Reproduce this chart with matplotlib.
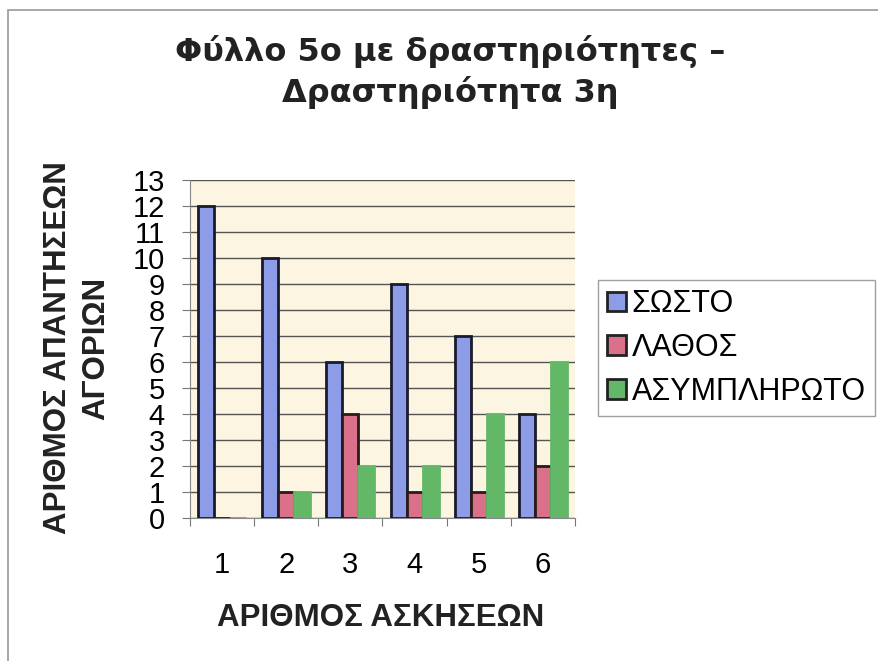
import numpy as np
import matplotlib
matplotlib.use("Agg")
import matplotlib.pyplot as plt
from matplotlib.patches import Rectangle

exercises = ["1", "2", "3", "4", "5", "6"]
series_names = ["ΣΩΣΤΟ", "ΛΑΘΟΣ", "ΑΣΥΜΠΛΗΡΩΤΟ"]
correct = [12, 10, 6, 9, 7, 4]
wrong = [0, 1, 4, 1, 1, 2]
blank = [0, 1, 2, 2, 4, 6]

colors = ["#8C9CE6", "#D9718B", "#62B866"]
edges = ["#1a1a2a", "#2a1a1a", "#62B866"]

fig = plt.figure(figsize=(8.79, 6.61), dpi=100)
fig.patch.set_facecolor("white")

# outer chart border
fig.patches.append(Rectangle((8 / 879, -0.05), 1.1, 1 - 10 / 661 + 0.05,
                             transform=fig.transFigure, fill=False,
                             edgecolor="#9a9a9a", lw=1.2))

ax = fig.add_axes([190 / 879, 1 - 518 / 661, 385 / 879, 338 / 661])
ax.set_facecolor("#FCF5E2")

x = np.arange(len(exercises))
w = 0.25
for i, vals in enumerate([correct, wrong, blank]):
    ax.bar(x + (i - 1) * w, vals, w, color=colors[i], edgecolor=edges[i],
           linewidth=2, label=series_names[i], zorder=3)

ax.set_ylim(0, 13)
ax.set_xlim(-0.5, 5.5)
ax.set_yticks(range(0, 14))
ax.yaxis.grid(True, color="#555555", lw=1, zorder=1)
ax.set_xticks(np.arange(-0.5, 6, 1))
ax.set_xticklabels([])
ax.set_xticks(x, minor=True)
ax.set_xticklabels(exercises, minor=True)
ax.tick_params(axis="x", which="minor", length=0, pad=24, labelsize=21)
ax.tick_params(axis="x", which="major", length=6, color="#777777")
ax.tick_params(axis="y", length=6, color="#777777", labelsize=21, pad=12)
for lbl in ax.get_xticklabels(minor=True) + ax.get_yticklabels():
    lbl.set_fontfamily("Liberation Sans")
for s in ["top", "right"]:
    ax.spines[s].set_visible(False)
for s in ["left", "bottom"]:
    ax.spines[s].set_color("#888888")

fig.text(450 / 879, 1 - 72 / 661, "Φύλλο 5ο με δραστηριότητες –\nΔραστηριότητα 3η",
         ha="center", va="center", fontsize=23, fontweight="bold",
         family="DejaVu Sans", color="#222222", linespacing=1.3)

fig.text(381 / 879, 1 - 618 / 661, "ΑΡΙΘΜΟΣ ΑΣΚΗΣΕΩΝ", ha="center", va="center",
         fontsize=22.5, fontweight="bold", family="Liberation Sans", color="#222222")

fig.text(77 / 879, 1 - 348 / 661, "ΑΡΙΘΜΟΣ ΑΠΑΝΤΗΣΕΩΝ\nΑΓΟΡΙΩΝ", ha="center",
         va="center", rotation=90, fontsize=22.5, fontweight="bold",
         family="Liberation Sans", color="#222222", linespacing=1.35)

leg = ax.legend(loc="upper left", bbox_to_anchor=(598 / 879, 1 - 280 / 661),
                bbox_transform=fig.transFigure, frameon=True, fancybox=False,
                prop={"family": "Liberation Sans", "size": 22},
                handlelength=0.6, handleheight=0.6, handletextpad=0.2,
                labelspacing=0.45, borderpad=0.3, borderaxespad=0)
leg.get_frame().set_edgecolor("#888888")
leg.get_frame().set_linewidth(1)
for h, c in zip(leg.legend_handles, colors):
    h.set_edgecolor("#222222")

fig.savefig("out.png", dpi=100)
